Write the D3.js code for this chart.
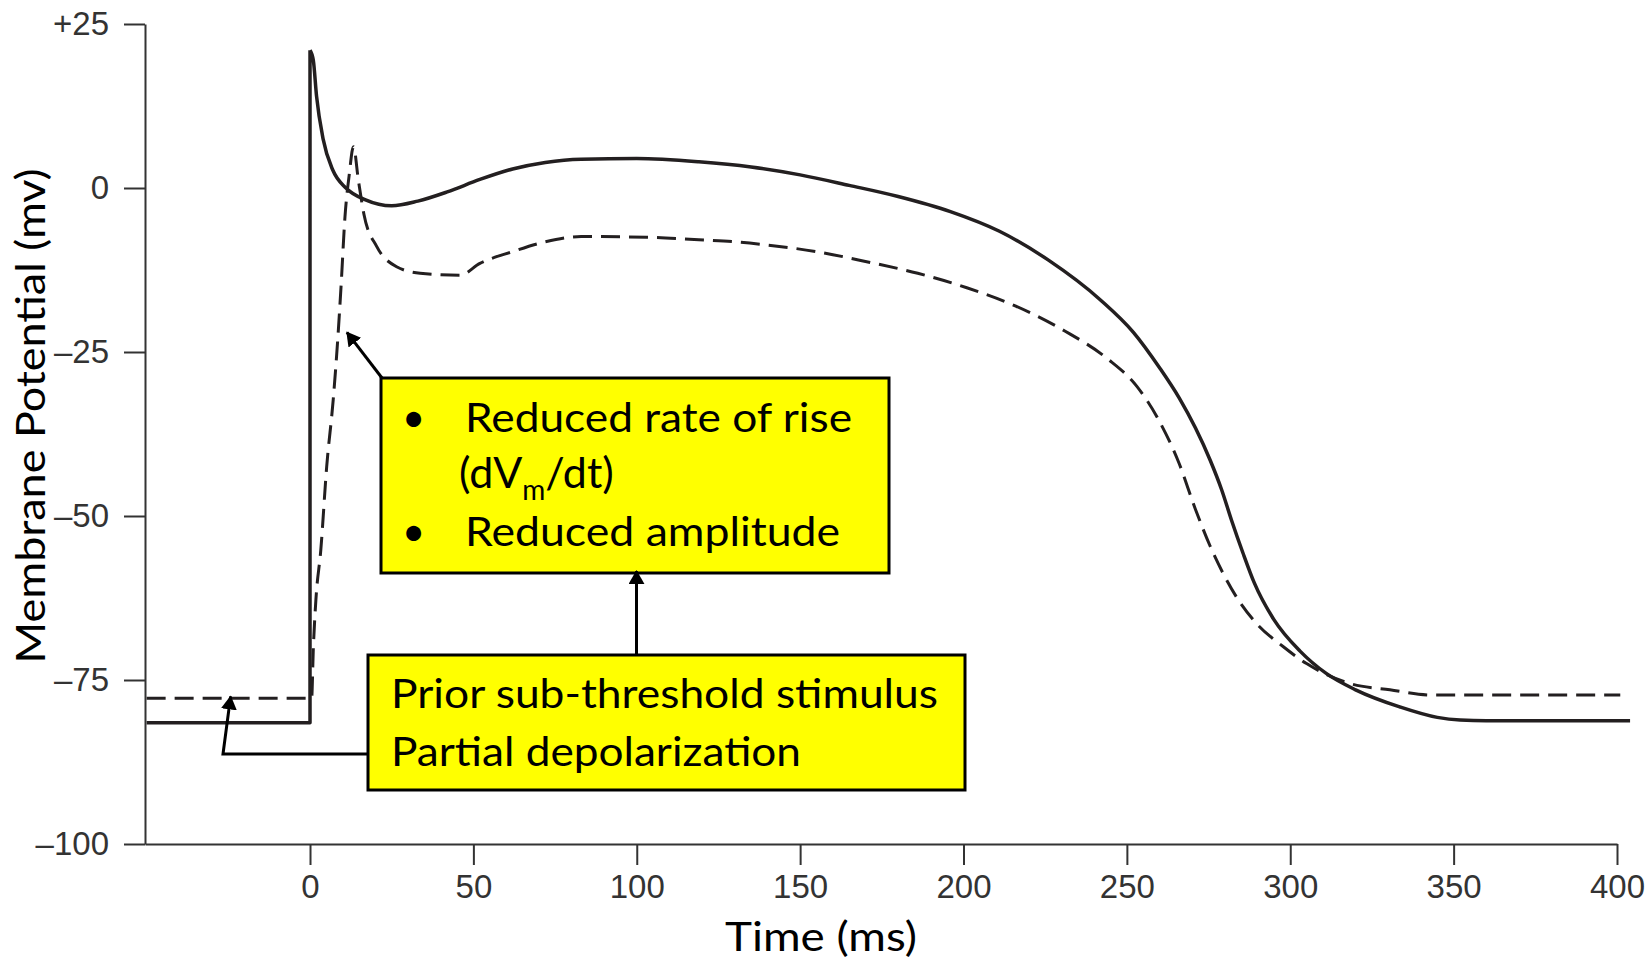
<!DOCTYPE html>
<html lang="en">
<head>
  <meta charset="UTF-8">
  <title>Membrane Potential vs Time</title>
  <script src="https://cdn.jsdelivr.net/npm/d3@7"></script>
  <style>
    body { margin: 0; background: #fff; }
    .axis text { font-family: "Liberation Sans", Arial, sans-serif; fill: #333; }
    .axis path, .axis line { stroke: #333; stroke-width: 2; }
    .note { font-family: Lato, "Open Sans", sans-serif; fill: #000; }
  </style>
</head>
<body>
<svg id="chart" width="1652" height="960"></svg>
<script>
  // normal action potential (solid line), time in ms / potential in mv
  var normalTime = [-50, 0, 0, 1, 2, 4, 7, 11, 17, 25, 33, 42, 52, 62, 72, 83, 100, 119, 135,
    150, 165, 180, 196, 211, 226, 242, 252, 260, 266, 271, 275.5, 279, 282, 285.5, 289, 295, 303,
    311, 320, 333.5, 345, 352, 360, 404];
  var normalVm = [-81.5, -81.5, 21, 19.5, 14, 7.5, 2.7, 0, -1.8, -2.7, -2.0, -0.6, 1.3, 2.9, 3.9, 4.4, 4.5, 4.0, 3.2,
    2.0, 0.4, -1.3, -3.6, -6.6, -11, -17.1, -22, -27.4, -32, -36.6, -41.5, -46, -50.6, -55.6, -60.2, -65.8, -70.6,
    -74, -76.5, -79.1, -80.7, -81.1, -81.2, -81.2];

  // after prior sub-threshold stimulus (dashed line)
  var depolTime = [-50, 0.5, 1, 1.8, 3.3, 5.1, 7.1, 8.5, 9.5, 10.7, 12, 13.3, 14.8, 16.5, 20.4, 26.5, 33.7, 45.9,
    52, 62, 72, 83, 103, 119, 130, 140, 155, 170, 186, 201, 216, 231, 244, 253, 260, 266, 271, 275.4,
    279.5, 283.6, 289.7, 297.8, 305, 318, 330.5, 343.6, 401];
  var depolVm = [-77.8, -77.8, -70.4, -62.8, -55.2, -42.5, -32.3, -23, -15, -4.4, 2, 6.3, 1.2, -4, -8.9, -12, -13, -13.3,
    -11.5, -9.7, -8.2, -7.4, -7.5, -7.9, -8.2, -8.7, -9.7, -11.2, -13, -15.2, -18, -21.8, -26, -30.2, -35.6, -42, -49, -54.5,
    -58.8, -62.4, -66.4, -69.9, -72.5, -75.5, -76.5, -77.3, -77.3];

  var xTicks = [0, 50, 100, 150, 200, 250, 300, 350, 400];
  var yTicks = [25, 0, -25, -50, -75, -100];
  var yTickLabels = ["+25", "0", "\u201325", "\u201350", "\u201375", "\u2013100"];

  var svg = d3.select("#chart");

  var x = d3.scaleLinear().domain([-50.5, 400]).range([145, 1617]);
  var y = d3.scaleLinear().domain([-100, 25]).range([844, 24]);

  // axes
  svg.append("g")
    .attr("class", "axis")
    .attr("transform", "translate(145,0)")
    .call(d3.axisLeft(y).tickValues(yTicks).tickSize(21).tickSizeOuter(0).tickPadding(15)
      .tickFormat(function(d, i) { return yTickLabels[i]; }))
    .selectAll("text").style("font-size", "33px");

  svg.append("g")
    .attr("class", "axis")
    .attr("transform", "translate(0,844)")
    .call(d3.axisBottom(x).tickValues(xTicks).tickSize(21).tickSizeOuter(0).tickPadding(10))
    .selectAll("text").style("font-size", "33px");

  // axis titles
  svg.append("text")
    .attr("class", "note")
    .attr("transform", "translate(45,416) rotate(-90)")
    .attr("text-anchor", "middle")
    .attr("font-size", 40)
    .attr("textLength", 495).attr("lengthAdjust", "spacingAndGlyphs")
    .text("Membrane Potential (mv)");

  svg.append("text")
    .attr("class", "note")
    .attr("x", 821).attr("y", 951)
    .attr("text-anchor", "middle")
    .attr("font-size", 40)
    .attr("textLength", 192).attr("lengthAdjust", "spacingAndGlyphs")
    .text("Time (ms)");

  // traces: straight upstroke, smooth (monotone) everywhere x increases
  var straight = d3.line()
    .x(function(d) { return x(d[0]); })
    .y(function(d) { return y(d[1]); });
  var smooth = d3.line()
    .x(function(d) { return x(d[0]); })
    .y(function(d) { return y(d[1]); })
    .curve(d3.curveMonotoneX);

  var normal = d3.zip(normalTime, normalVm);
  var depol = d3.zip(depolTime, depolVm);

  svg.append("path")
    .attr("fill", "none")
    .attr("stroke", "#231f20")
    .attr("stroke-width", 3.5)
    .attr("stroke-linejoin", "round")
    .attr("d", straight(normal.slice(0, 3)) + smooth(normal.slice(2)));

  svg.append("path")
    .datum(depol)
    .attr("fill", "none")
    .attr("stroke", "#231f20")
    .attr("stroke-width", 3)
    .attr("stroke-dasharray", "19,9")
    .attr("d", smooth);

  // arrow marker
  svg.append("defs").append("marker")
    .attr("id", "head")
    .attr("viewBox", "0 0 14 16")
    .attr("refX", 13).attr("refY", 8)
    .attr("markerWidth", 14).attr("markerHeight", 16)
    .attr("markerUnits", "userSpaceOnUse")
    .attr("orient", "auto")
    .append("path")
    .attr("d", "M0,0L14,8L0,16Z")
    .attr("fill", "#000");

  // annotation boxes
  function box(x0, y0, w, h) {
    svg.append("rect")
      .attr("x", x0).attr("y", y0).attr("width", w).attr("height", h)
      .attr("fill", "#ffff00").attr("stroke", "#000").attr("stroke-width", 3);
  }
  box(381, 378, 508, 195);
  box(368, 655, 597, 135);

  function note(tx, ty, str, len, size) {
    var t = svg.append("text")
      .attr("class", "note")
      .attr("x", tx).attr("y", ty)
      .attr("font-size", size || 40)
      .text(str);
    if (len) t.attr("textLength", len).attr("lengthAdjust", "spacingAndGlyphs");
    return t;
  }
  note(402, 432, "\u2022");
  note(465, 432, "Reduced rate of rise", 387);
  var dv = note(459, 488, null, null, 43);
  dv.append("tspan").text("(dV");
  dv.append("tspan").attr("dy", 12).attr("font-size", 28).text("m");
  dv.append("tspan").attr("dy", -12).text("/dt)");
  note(402, 546, "\u2022");
  note(465, 546, "Reduced amplitude", 375);
  note(391, 708, "Prior sub-threshold stimulus", 547);
  note(391, 766, "Partial depolarization", 410);

  // arrows
  function arrow(pts) {
    svg.append("path")
      .attr("d", d3.line()(pts))
      .attr("fill", "none")
      .attr("stroke", "#000")
      .attr("stroke-width", 3)
      .attr("marker-end", "url(#head)");
  }
  arrow([[636.5, 655], [636.5, y(-58.4)]]);
  arrow([[368, 754], [223, 754], [x(-24.3), y(-77.5)]]);
  arrow([[382, 378], [x(11.3), y(-22)]]);
</script>
</body>
</html>
